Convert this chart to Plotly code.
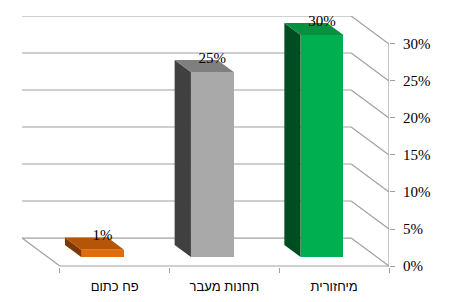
import plotly.graph_objects as go

categories = ["פח כתום", "תחנות מעבר", "מיחזורית"]
values = [1, 25, 30]
value_labels = ["1%", "25%", "30%"]
tick_values = [0, 5, 10, 15, 20, 25, 30]
tick_labels = ["0%", "5%", "10%", "15%", "20%", "25%", "30%"]

front_colors = ["#E36C0A", "#A9A9A9", "#00B050"]
top_colors = ["#B3560A", "#7F7F7F", "#059140"]
side_colors = ["#7A3906", "#404040", "#004D22"]

# 3D projection: full depth shifts left by DX category units and up by DY percent
DX = 0.345
DY = 3.78
BAR_D0 = 0.32   # depth fraction of bar front face
BAR_D1 = 0.75   # depth fraction of bar back face
BAR_W = 0.39
GRID = "#A0A0A0"
GW = 1.2

fig = go.Figure()

n = len(categories)
x_left, x_right = -0.5, n - 0.5

shapes = []
def seg(x0, y0, x1, y1):
    shapes.append(dict(type="line", xref="x", yref="y", x0=x0, y0=y0, x1=x1, y1=y1,
                       line=dict(color=GRID, width=GW), layer="below"))

# back wall gridlines + right side wall diagonals
for t in tick_values:
    seg(x_left - DX, t + DY, x_right - DX, t + DY)
    seg(x_right - DX, t + DY, x_right, t)
# floor edges
seg(x_left - DX, DY, x_left, 0)
seg(x_left, 0, x_right, 0)
# front right vertical axis line
seg(x_right, 0, x_right, tick_values[-1])

# bars
fx0 = -BAR_D0 * DX
fy0 = BAR_D0 * DY
ddx = -(BAR_D1 - BAR_D0) * DX
ddy = (BAR_D1 - BAR_D0) * DY
for i, v in enumerate(values):
    xl = i + fx0 - BAR_W / 2
    xr = i + fx0 + BAR_W / 2
    yb = fy0
    yt = fy0 + v
    # side face (left)
    fig.add_trace(go.Scatter(
        x=[xl, xl + ddx, xl + ddx, xl, xl],
        y=[yb, yb + ddy, yt + ddy, yt, yb],
        fill="toself", fillcolor=side_colors[i], mode="lines",
        line=dict(width=0, color=side_colors[i]),
        hoverinfo="skip", showlegend=False))
    # top face
    fig.add_trace(go.Scatter(
        x=[xl, xl + ddx, xr + ddx, xr, xl],
        y=[yt, yt + ddy, yt + ddy, yt, yt],
        fill="toself", fillcolor=top_colors[i], mode="lines",
        line=dict(width=0, color=top_colors[i]),
        hoverinfo="skip", showlegend=False))

# front faces
fig.add_trace(go.Bar(
    x=[i + fx0 for i in range(n)], y=values, base=[fy0] * n,
    width=BAR_W, marker=dict(color=front_colors, line=dict(width=0)),
    hoverinfo="skip", showlegend=False))

# data labels
fig.add_trace(go.Scatter(
    x=[i + fx0 for i in range(n)],
    y=[fy0 + v + ddy + 0.15 for v in values],
    mode="text", text=value_labels, textposition="middle center",
    textfont=dict(family="Liberation Serif", size=15, color="#000000"),
    cliponaxis=False, hoverinfo="skip", showlegend=False))

fig.update_layout(
    width=450, height=302,
    margin=dict(l=22, r=61, t=16, b=35),
    paper_bgcolor="white", plot_bgcolor="white",
    bargap=0, showlegend=False,
    shapes=shapes,
    xaxis=dict(
        range=[x_left - DX, x_right], automargin=False,
        tickvals=list(range(n)), ticktext=categories,
        ticks="", showgrid=False, zeroline=False, showline=False,
        tickfont=dict(family="Liberation Sans", size=13, color="#000000"),
        ticklabelstandoff=10,
        minor=dict(tickvals=[x_left + k for k in range(n + 1)], ticks="outside",
                   ticklen=5, tickcolor=GRID, tickwidth=GW, showgrid=False),
        fixedrange=True),
    yaxis=dict(
        range=[-0.135, 33.78], side="right", automargin=False,
        tickvals=tick_values, ticktext=tick_labels,
        ticks="outside", ticklen=5, tickcolor=GRID, tickwidth=GW,
        showgrid=False, zeroline=False, showline=False,
        tickfont=dict(family="Liberation Serif", size=15, color="#000000"),
        ticklabelstandoff=5,
        fixedrange=True),
)

fig.write_html("out.html", config={"displayModeBar": False})
